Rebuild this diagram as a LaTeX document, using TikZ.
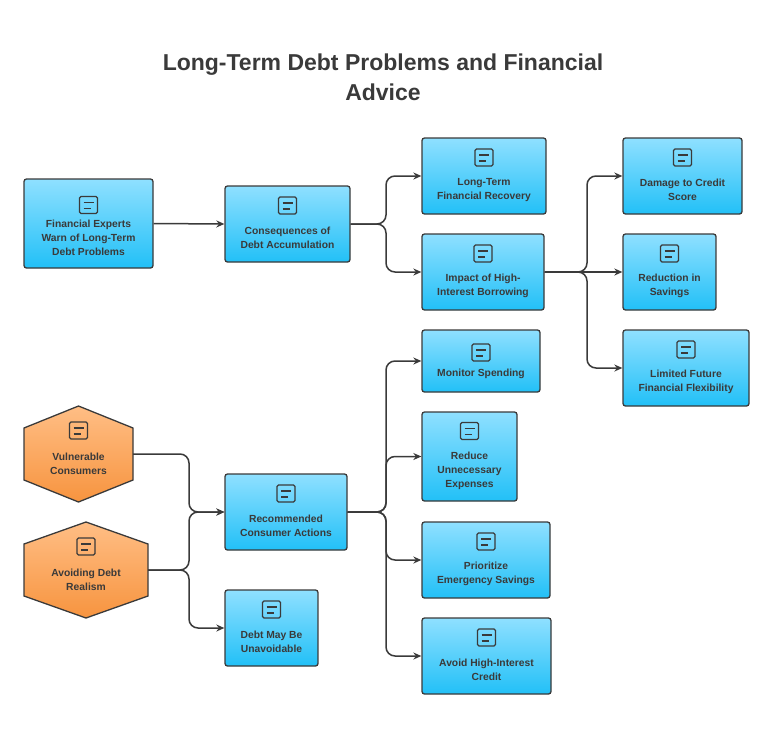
\documentclass[tikz,border=0pt]{standalone}
\usepackage{fontspec}
\setmainfont{Liberation Sans}
\usepackage{tikz}
\usetikzlibrary{arrows.meta, calc, positioning}

\definecolor{boxtop}{HTML}{8FE0FF}
\definecolor{boxbot}{HTML}{22C0F7}
\definecolor{hextop}{HTML}{FFBE85}
\definecolor{hexbot}{HTML}{F7943F}
\definecolor{ink}{HTML}{3A3A3A}

\tikzset{
  box/.style={draw=ink, line width=1.3pt, rounded corners=2.5pt,
    top color=boxtop, bottom color=boxbot, inner sep=0pt},
  hexa/.style={draw=ink, line width=1.3pt, top color=hextop, bottom color=hexbot},
  txt/.style={font=\bfseries\fontsize{10.3}{14}\selectfont, text=ink, align=center},
  conn/.style={draw=ink, line width=1.5pt, rounded corners=9pt, -{Stealth[length=8pt,width=7pt]}},
  ico/.style={draw=ink, line width=1.2pt, rounded corners=1.5pt}
}

% small pictograph above a label
\newcommand{\pict}[1]{%
  \draw[ico] ($(#1)+(-9,-9)$) rectangle ($(#1)+(9,8)$);
  \draw[ico] ($(#1)+(-5,-3)$) -- ($(#1)+(5,-3)$);
  \draw[ico] ($(#1)+(-5,3)$) -- ($(#1)+(2,3)$);
}

% box with text and pictograph: name, centre x, centre y, width, height, text
\newcommand{\tile}[6]{%
  \node[box, minimum width=#4, minimum height=#5] (#1) at (#2,#3) {};
  \node[txt] at ([yshift=-14pt]#1.center) {#6};
  \coordinate (#1-i) at ([yshift=18pt]#1.center);
  \pict{#1-i}
}

\begin{document}
\begin{tikzpicture}[x=1pt, y=-1pt]
  \useasboundingbox (0,0) rectangle (774,742);

  % Title
  \node[font=\bfseries\fontsize{23}{30}\selectfont, text=ink, align=center] (title) at (383,77)
    {Long-Term Debt Problems and Financial\\Advice};

  % Upper branch
  \tile{expert}{88.5}{223.5}{129pt}{89pt}{Financial Experts\\Warn of Long-Term\\Debt Problems}
  \tile{conseq}{287.5}{224}{125pt}{76pt}{Consequences of\\Debt Accumulation}
  \tile{recov}{484}{176}{124pt}{76pt}{Long-Term\\Financial Recovery}
  \tile{impact}{483}{272}{122pt}{76pt}{Impact of High-\\Interest Borrowing}
  \tile{credit}{682.5}{176}{119pt}{76pt}{Damage to Credit\\Score}
  \tile{saving}{669.5}{272}{93pt}{76pt}{Reduction in\\Savings}
  \tile{flex}{686}{368}{126pt}{76pt}{Limited Future\\Financial Flexibility}

  % Lower branch
  \node[box, minimum width=118pt, minimum height=62pt] (monitor) at (481,361) {};
  \node[txt] at ([yshift=-13pt]monitor.center) {Monitor Spending};
  \coordinate (monitor-i) at ([yshift=8pt]monitor.center);
  \pict{monitor-i}
  \node[box, minimum width=95pt, minimum height=89pt] (reduce) at (469.5,456.5) {};
  \node[txt] at ([yshift=-14pt]reduce.center) {Reduce\\Unnecessary\\Expenses};
  \coordinate (reduce-i) at ([yshift=25pt]reduce.center);
  \pict{reduce-i}
  \tile{emerg}{486}{560}{128pt}{76pt}{Prioritize\\Emergency Savings}
  \tile{avoid}{486.5}{656}{129pt}{76pt}{Avoid High-Interest\\Credit}
  \tile{action}{286}{512}{122pt}{76pt}{Recommended\\Consumer Actions}
  \tile{unavoid}{271.5}{628}{93pt}{76pt}{Debt May Be\\Unavoidable}

  % Hexagons
  \draw[hexa] (24,428) -- (78.5,406) -- (133,428) -- (133,480) -- (78.5,502) -- (24,480) -- cycle;
  \coordinate (vuln) at (133,454);
  \node[txt] at (78.5,464) {Vulnerable\\Consumers};
  \coordinate (vuln-i) at (78.5,431);
  \pict{vuln-i}
  \draw[hexa] (24,544) -- (86,522) -- (148,544) -- (148,596) -- (86,618) -- (24,596) -- cycle;
  \coordinate (realism) at (148,570);
  \node[txt] at (86,580) {Avoiding Debt\\Realism};
  \coordinate (realism-i) at (86,547);
  \pict{realism-i}

  % Connectors
  \draw[conn] (expert.east) -- (conseq.west);
  \coordinate (j1) at (386,224);
  \draw[conn] (conseq.east) -- (j1) |- (recov.west);
  \draw[conn] (conseq.east) -- (j1) |- (impact.west);
  \coordinate (j2) at (587,272);
  \draw[conn] (impact.east) -- (j2) |- (credit.west);
  \draw[conn] (impact.east) -- (saving.west);
  \draw[conn] (impact.east) -- (j2) |- (flex.west);
  \coordinate (j3) at (386,512);
  \foreach \t in {monitor, reduce, emerg, avoid}
    \draw[conn] (action.east) -- (j3) |- (\t.west);
  \coordinate (j4) at (189,454);
  \coordinate (j5) at (189,570);
  \draw[conn] (vuln) -- (j4) |- (action.west);
  \draw[conn] (realism) -- (j5) |- (action.west);
  \draw[conn] (realism) -- (j5) |- (unavoid.west);
\end{tikzpicture}
\end{document}
